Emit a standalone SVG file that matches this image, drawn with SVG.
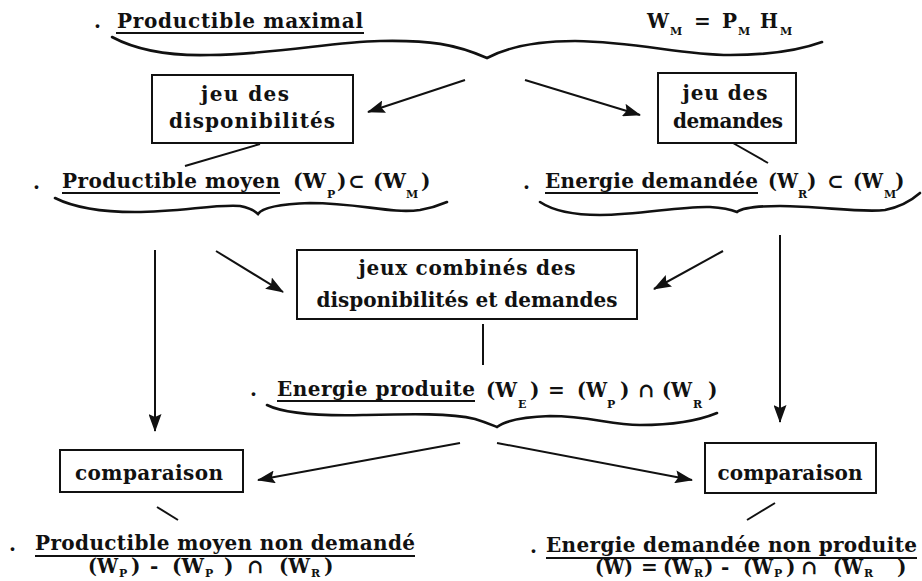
<svg xmlns="http://www.w3.org/2000/svg" width="922" height="581" viewBox="0 0 922 581">
<defs>
<marker id="ah" markerUnits="userSpaceOnUse" markerWidth="18" markerHeight="13" refX="17" refY="6.5" orient="auto">
<path d="M0,0 L18,6.5 L0,13 L3,6.5 z" fill="#111"/>
</marker>
<style>
.t{font-family:"DejaVu Serif","Liberation Serif",serif;font-weight:bold;font-size:20px;fill:#111}
.s{font-family:"DejaVu Serif","Liberation Serif",serif;font-weight:bold;font-size:11px;fill:#111}
.c{text-anchor:middle}
.box{fill:none;stroke:#111;stroke-width:2}
.ln{fill:none;stroke:#111;stroke-width:2}
.ul{stroke:#111;stroke-width:2}
.br{fill:none;stroke:#111;stroke-width:2.6;stroke-linecap:round}
.ar{fill:none;stroke:#111;stroke-width:2;marker-end:url(#ah)}
</style>
</defs>
<rect width="922" height="581" fill="#fff"/>

<g id="productible-maximal">
<text class="t" x="94" y="28">.</text>
<text class="t" x="117" y="28" textLength="246">Productible maximal</text>
<line class="ul" x1="116" y1="33" x2="364" y2="33"/>
<text class="t" x="647" y="28" textLength="22" lengthAdjust="spacingAndGlyphs">W</text><text class="s" x="670" y="35">M</text>
<text class="t" x="694" y="28">=</text>
<text class="t" x="722" y="28" textLength="15" lengthAdjust="spacingAndGlyphs">P</text><text class="s" x="738" y="35">M</text>
<text class="t" x="760" y="28" textLength="18" lengthAdjust="spacingAndGlyphs">H</text><text class="s" x="780" y="35">M</text>
<path class="br" d="M112,37 C140,52 175,56 210,55 C280,54 330,42 380,41 C430,40 455,44 487,58 C510,46 540,41 575,41 C640,42 680,55 730,55 C770,55 800,50 822,42"/>
</g>

<g id="jeu-disponibilites">
<rect class="box" x="152" y="75" width="201" height="68"/>
<text class="t c" x="245" y="101" textLength="88">jeu des</text>
<text class="t c" x="252" y="128" textLength="166">disponibilités</text>
</g>

<g id="jeu-demandes">
<rect class="box" x="658" y="73" width="138" height="70"/>
<text class="t c" x="725" y="100" textLength="85">jeu des</text>
<text class="t c" x="728" y="128" textLength="110">demandes</text>
</g>

<g id="productible-moyen">
<text class="t" x="33" y="189">.</text>
<text class="t" x="62" y="188" textLength="218">Productible moyen</text>
<line class="ul" x1="62" y1="193" x2="280" y2="193"/>
<text class="t" x="293" y="188" textLength="33" lengthAdjust="spacingAndGlyphs">(W</text><text class="s" x="327" y="198">P</text><text class="t" x="337" y="188">)</text>
<text class="t" x="348" y="188">⊂</text>
<text class="t" x="373" y="188" textLength="33" lengthAdjust="spacingAndGlyphs">(W</text><text class="s" x="406" y="198">M</text><text class="t" x="421" y="188">)</text>
<path class="br" d="M55,198 C75,208 100,212 135,212 C180,212 215,204 240,206 C250,208 255,211 258,214 C262,208 280,204 310,203 C360,203 390,214 420,210 C432,208 440,205 447,202"/>
</g>

<g id="energie-demandee">
<text class="t" x="523" y="189">.</text>
<text class="t" x="545" y="188" textLength="213">Energie demandée</text>
<line class="ul" x1="545" y1="193" x2="758" y2="193"/>
<text class="t" x="768" y="188" textLength="30" lengthAdjust="spacingAndGlyphs">(W</text><text class="s" x="798" y="198">R</text><text class="t" x="807" y="188">)</text>
<text class="t" x="827" y="188">⊂</text>
<text class="t" x="853" y="188" textLength="30" lengthAdjust="spacingAndGlyphs">(W</text><text class="s" x="884" y="198">M</text><text class="t" x="895" y="188">)</text>
<path class="br" d="M540,202 C555,212 575,215 600,215 C640,215 680,206 710,207 C725,208 732,210 737,212 C742,208 755,206 780,206 C820,206 860,213 885,210 C900,207 912,200 920,193"/>
</g>

<g id="jeux-combines">
<rect class="box" x="297" y="250" width="340" height="69"/>
<text class="t c" x="467" y="275" textLength="217">jeux combinés des</text>
<text class="t c" x="467" y="307" textLength="301">disponibilités et demandes</text>
</g>

<g id="energie-produite">
<text class="t" x="250" y="396">.</text>
<text class="t" x="277" y="396" textLength="198">Energie produite</text>
<line class="ul" x1="277" y1="401" x2="475" y2="401"/>
<text class="t" x="486" y="397" textLength="31" lengthAdjust="spacingAndGlyphs">(W</text><text class="s" x="518" y="408">E</text><text class="t" x="530" y="397">)</text>
<text class="t" x="548" y="397">=</text>
<text class="t" x="577" y="397" textLength="30" lengthAdjust="spacingAndGlyphs">(W</text><text class="s" x="607" y="408">P</text><text class="t" x="620" y="397">)</text>
<text class="t" x="638" y="397">∩</text>
<text class="t" x="662" y="397" textLength="30" lengthAdjust="spacingAndGlyphs">(W</text><text class="s" x="693" y="408">R</text><text class="t" x="708" y="397">)</text>
<path class="br" d="M267,405 C285,414 320,416 363,415 C410,414 450,413 475,419 C485,422 492,425 497,427 C505,421 520,417 550,416 C590,416 610,425 640,425 C675,425 700,420 717,413"/>
</g>

<g id="comparaison-gauche">
<rect class="box" x="60" y="450" width="183" height="42"/>
<text class="t c" x="149" y="480" textLength="148">comparaison</text>
</g>

<g id="comparaison-droite">
<rect class="box" x="705" y="443" width="171" height="50"/>
<text class="t c" x="790" y="480" textLength="145">comparaison</text>
</g>

<g id="productible-non-demande">
<text class="t" x="9" y="551">.</text>
<text class="t" x="35" y="550" textLength="380">Productible moyen non demandé</text>
<line class="ul" x1="35" y1="556" x2="415" y2="556"/>
<text class="t" x="88" y="573" textLength="30" lengthAdjust="spacingAndGlyphs">(W</text><text class="s" x="119" y="577">P</text><text class="t" x="131" y="573">)</text>
<text class="t" x="150" y="573">-</text>
<text class="t" x="172" y="573" textLength="32" lengthAdjust="spacingAndGlyphs">(W</text><text class="s" x="205" y="577">P</text><text class="t" x="224" y="573">)</text>
<text class="t" x="247" y="573">∩</text>
<text class="t" x="279" y="573" textLength="31" lengthAdjust="spacingAndGlyphs">(W</text><text class="s" x="311" y="577">R</text><text class="t" x="324" y="573">)</text>
</g>

<g id="energie-non-produite">
<text class="t" x="530" y="553">.</text>
<text class="t" x="546" y="552" textLength="371">Energie demandée non produite</text>
<line class="ul" x1="546" y1="558" x2="917" y2="558"/>
<text class="t" x="595" y="574" textLength="38" lengthAdjust="spacingAndGlyphs">(W)</text>
<text class="t" x="641" y="574">=</text>
<text class="t" x="663" y="574" textLength="30" lengthAdjust="spacingAndGlyphs">(W</text><text class="s" x="694" y="577">R</text><text class="t" x="704" y="574">)</text>
<text class="t" x="721" y="574">-</text>
<text class="t" x="743" y="574" textLength="30" lengthAdjust="spacingAndGlyphs">(W</text><text class="s" x="774" y="577">P</text><text class="t" x="786" y="574">)</text>
<text class="t" x="801" y="574">∩</text>
<text class="t" x="833" y="574" textLength="30" lengthAdjust="spacingAndGlyphs">(W</text><text class="s" x="864" y="577">R</text><text class="t" x="897" y="574">)</text>
</g>

<g id="connectors">
<line class="ar" x1="465" y1="80" x2="368" y2="112"/>
<line class="ar" x1="525" y1="80" x2="640" y2="115"/>
<line class="ln" x1="260" y1="144" x2="185" y2="166"/>
<line class="ln" x1="733" y1="143" x2="768" y2="163"/>
<line class="ar" x1="155" y1="250" x2="155" y2="431"/>
<line class="ar" x1="216" y1="251" x2="283" y2="292"/>
<line class="ar" x1="723" y1="251" x2="654" y2="289"/>
<line class="ar" x1="780" y1="235" x2="780" y2="422"/>
<line class="ln" x1="483" y1="324" x2="483" y2="365"/>
<line class="ar" x1="460" y1="443" x2="258" y2="480"/>
<line class="ar" x1="497" y1="443" x2="692" y2="480"/>
<line class="ln" x1="157" y1="507" x2="178" y2="520"/>
<line class="ln" x1="775" y1="503" x2="747" y2="520"/>
</g>
</svg>
